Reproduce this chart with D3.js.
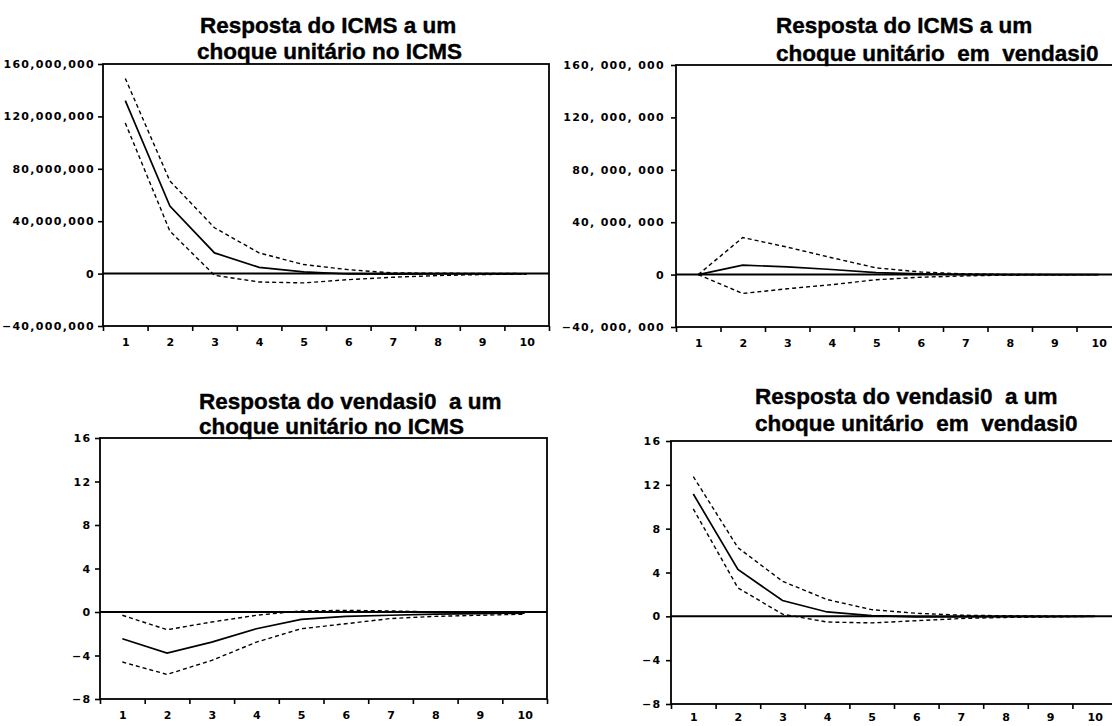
<!DOCTYPE html>
<html>
<head>
<meta charset="utf-8">
<script src="https://cdn.jsdelivr.net/npm/d3@7"></script>
<style>
  body { margin: 0; background: #fff; }
  svg { display: block; }
  .title { font-family: "Liberation Sans", Arial, sans-serif; font-weight: bold; font-size: 22.5px; white-space: pre; fill: #000; stroke: #000; stroke-width: 0.4px; }
</style>
</head>
<body>
<div id="chart"></div>
<script>
// periods after the shock
const periods = [1, 2, 3, 4, 5, 6, 7, 8, 9, 10];

// ICMS response to ICMS shock (response, +2 s.e., -2 s.e.)
const icmsIcms      = [132e6, 51.5e6, 15.8e6, 4.8e6, 1.3e6, -0.3e6, -0.5e6, -0.3e6, -0.2e6, -0.1e6];
const icmsIcmsUpper = [149e6, 70.7e6, 35e6, 15.8e6, 6.9e6, 3e6, 0.5e6, 0.3e6, 0.1e6, 0];
const icmsIcmsLower = [115e6, 32.4e6, -1.3e6, -6.4e6, -7.1e6, -4.6e6, -2.8e6, -1.5e6, -0.7e6, -0.3e6];

// ICMS response to vendasi0 shock
const icmsVend      = [0, 7.2e6, 5.9e6, 3.9e6, 1.5e6, 0.5e6, 0.1e6, 0, 0, 0];
const icmsVendUpper = [0, 28.3e6, 21e6, 12.9e6, 5.1e6, 2e6, 0.5e6, 0.1e6, 0, 0];
const icmsVendLower = [0, -14.4e6, -10.8e6, -7.7e6, -3.9e6, -2e6, -1e6, -0.3e6, -0.1e6, 0];

// vendasi0 response to ICMS shock
const vendIcms      = [-2.46, -3.78, -2.77, -1.54, -0.68, -0.4, -0.3, -0.2, -0.15, -0.1];
const vendIcmsUpper = [-0.3, -1.63, -0.92, -0.3, 0.1, 0.15, 0.1, 0, -0.05, -0.05];
const vendIcmsLower = [-4.6, -5.74, -4.45, -2.77, -1.54, -1.08, -0.6, -0.4, -0.3, -0.2];

// vendasi0 response to vendasi0 shock
const vendVend      = [11.16, 4.28, 1.44, 0.4, 0.06, -0.05, -0.05, -0.03, -0.02, 0];
const vendVendUpper = [12.75, 6.27, 3.2, 1.53, 0.61, 0.28, 0.1, 0.05, 0.02, 0];
const vendVendLower = [9.8, 2.6, 0.2, -0.52, -0.6, -0.4, -0.2, -0.1, -0.05, 0];

// y tick labels
const moneyTicks = [-40e6, 0, 40e6, 80e6, 120e6, 160e6];
const unitTicks  = [-8, -4, 0, 4, 8, 12, 16];

// titles
const titleICMSonICMS = ["Resposta do ICMS a um", "choque unitário no ICMS"];
const titleICMSonVend = ["Resposta do ICMS a um", "choque unitário  em  vendasi0"];
const titleVendonICMS = ["Resposta do vendasi0  a um", "choque unitário no ICMS"];
const titleVendonVend = ["Resposta do vendasi0  a um", "choque unitário  em  vendasi0"];

const width = 1112, height = 726;

const svg = d3.select("#chart")
  .append("svg")
  .attr("width", width)
  .attr("height", height);

const commaFmt = d3.format(",");
const spacedFmt = d => commaFmt(d).replace(/,/g, ", ");

const panels = [
  { title: titleICMSonICMS, tx: [200, 197], ty: [33, 59], resp: icmsIcms, upper: icmsIcmsUpper, lower: icmsIcmsLower,
    yTicks: moneyTicks, fmt: commaFmt, left: 103, right: 549, top: 64, bottom: 326, pad: 3, xPad: 12 },
  { title: titleICMSonVend, tx: [776, 776], ty: [33, 61], resp: icmsVend, upper: icmsVendUpper, lower: icmsVendLower,
    yTicks: moneyTicks, fmt: spacedFmt, left: 676, right: 1121, top: 65, bottom: 327, pad: 6, xPad: 12 },
  { title: titleVendonICMS, tx: [199, 199], ty: [409, 434], resp: vendIcms, upper: vendIcmsUpper, lower: vendIcmsLower,
    yTicks: unitTicks, fmt: d3.format("d"), left: 100, right: 547, top: 438, bottom: 699, pad: 3.5, xPad: 12 },
  { title: titleVendonVend, tx: [755, 755], ty: [404, 431], resp: vendVend, upper: vendVendUpper, lower: vendVendLower,
    yTicks: unitTicks, fmt: d3.format("d"), left: 671, right: 1117, top: 441, bottom: 704, pad: 4.5, xPad: 9 }
];

panels.forEach(p => drawPanel(p));

function styleTickText(sel, spacing) {
  sel.selectAll("text")
    .attr("font-family", "'DejaVu Sans', Verdana, sans-serif")
    .attr("font-size", 11)
    .attr("font-weight", "bold")
    .attr("fill", "#000")
    .style("letter-spacing", spacing + "px");
}

function drawPanel(p) {
  const g = svg.append("g");
  const xScale = d3.scaleLinear()
    .domain([periods[0] - 0.5, periods[periods.length - 1] + 0.5])
    .range([p.left, p.right]);
  const yScale = d3.scaleLinear()
    .domain([p.yTicks[0], p.yTicks[p.yTicks.length - 1]])
    .range([p.bottom, p.top]);

  // title
  p.title.forEach((t, i) => {
    g.append("text")
      .attr("class", "title")
      .attr("x", p.tx[i])
      .attr("y", p.ty[i])
      .text(t);
  });

  // y axis
  const yAxis = g.append("g")
    .attr("transform", `translate(${p.left},0)`)
    .call(d3.axisLeft(yScale).tickValues(p.yTicks).tickFormat(p.fmt).tickSize(5).tickPadding(p.pad));
  yAxis.select(".domain").remove();
  yAxis.selectAll(".tick line").attr("stroke", "#000").attr("stroke-width", 1.6);
  styleTickText(yAxis, 1.3);

  // x tick marks sit between the periods
  const bounds = periods.map(d => d - 0.5).concat([periods[periods.length - 1] + 0.5]);
  const xTicks = g.append("g")
    .attr("transform", `translate(0,${p.bottom})`)
    .call(d3.axisBottom(xScale).tickValues(bounds).tickSize(5).tickFormat(""));
  xTicks.select(".domain").remove();
  xTicks.selectAll(".tick line").attr("stroke", "#000").attr("stroke-width", 1.6);

  const xLabels = g.append("g")
    .attr("transform", `translate(0,${p.bottom})`)
    .call(d3.axisBottom(xScale).tickValues(periods).tickSize(0).tickPadding(p.xPad));
  xLabels.select(".domain").remove();
  styleTickText(xLabels, 0);

  // frame
  g.append("rect")
    .attr("x", p.left)
    .attr("y", p.top)
    .attr("width", p.right - p.left)
    .attr("height", p.bottom - p.top)
    .attr("fill", "none")
    .attr("stroke", "#000")
    .attr("stroke-width", 1.8);

  // zero line
  g.append("line")
    .attr("x1", p.left)
    .attr("x2", p.right)
    .attr("y1", yScale(0))
    .attr("y2", yScale(0))
    .attr("stroke", "#000")
    .attr("stroke-width", 2);

  const line = d3.line()
    .x((d, i) => xScale(periods[i]))
    .y(d => yScale(d));

  [p.upper, p.lower].forEach(band => {
    g.append("path")
      .datum(band)
      .attr("d", line)
      .attr("fill", "none")
      .attr("stroke", "#000")
      .attr("stroke-width", 1.4)
      .attr("stroke-dasharray", "4,3");
  });

  g.append("path")
    .datum(p.resp)
    .attr("d", line)
    .attr("fill", "none")
    .attr("stroke", "#000")
    .attr("stroke-width", 1.7);
}
</script>
</body>
</html>
